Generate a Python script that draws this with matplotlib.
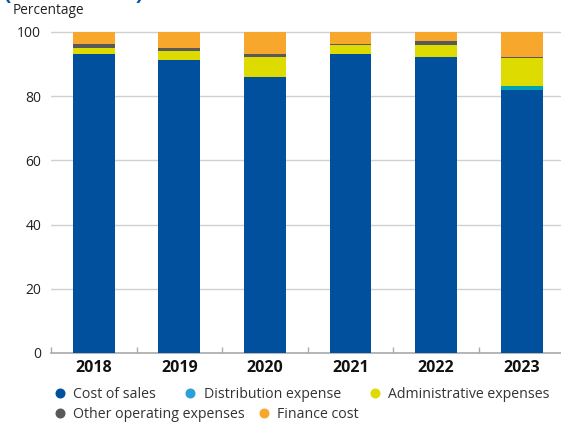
import numpy as np
import matplotlib.pyplot as plt
from matplotlib.lines import Line2D

# ------------------------------------------------------------------
# DATA (percentage of total expenses)
# ------------------------------------------------------------------
years = ["2018", "2019", "2020", "2021", "2022", "2023"]
cost_of_sales = [93.1, 91.2, 86.0, 93.1, 92.2, 81.9]
distribution = [0.0, 0.0, 0.0, 0.0, 0.0, 1.2]
administrative = [1.9, 2.9, 6.2, 2.8, 3.7, 8.8]
other_operating = [1.2, 0.9, 0.9, 0.2, 1.3, 0.3]
finance_cost = [3.8, 5.0, 6.9, 3.9, 2.8, 7.8]

series = [
    ("Cost of sales", cost_of_sales, "#00509d", "#00509d"),
    ("Distribution expense", distribution, "#00a3b4", "#2c9fd9"),
    ("Administrative expenses", administrative, "#dedb00", "#dedb00"),
    ("Other operating expenses", other_operating, "#58595b", "#58595b"),
    ("Finance cost", finance_cost, "#f6a72c", "#f6a72c"),
]

plt.rcParams['font.family'] = ['Open Sans', 'DejaVu Sans']

fig = plt.figure(figsize=(5.61, 4.29), dpi=100)
ax = fig.add_axes([51 / 561, 76 / 429, 1 - 51 / 561, 322 / 429])

x = np.arange(len(years))
bottom = np.zeros(len(years))
for name, vals, col, _ in series:
    ax.bar(x, vals, width=0.49, bottom=bottom, color=col, zorder=3)
    bottom += np.array(vals)

ax.set_xlim(-0.5, 5.46)
ax.set_ylim(0, 100.3)
ax.set_yticks([0, 20, 40, 60, 80, 100])
ax.yaxis.grid(True, color="#d0d0d0", linewidth=1.0, zorder=0)
ax.tick_params(axis="y", length=0, pad=7, labelsize=10, labelcolor="#222222")

ax.set_xticks(x)
ax.set_xticklabels(years, fontsize=11.5, fontweight="bold", color="#111111")
ax.set_xticks(np.arange(len(years)) - 0.5, minor=True)
ax.tick_params(axis="x", which="major", length=0, pad=5)
ax.tick_params(axis="x", which="minor", direction="in", length=4, color="#aaaaaa", width=1)

for s in ["left", "right", "top"]:
    ax.spines[s].set_visible(False)
ax.spines["bottom"].set_color("#aaaaaa")
ax.spines["bottom"].set_linewidth(1.2)

fig.text(13 / 561, 1 - 11 / 429, "Percentage", fontsize=9.8, color="#222222", va="center")
# title cut off at the top of the image
fig.text(4 / 561, 1.0 + 1 / 429, "(2018 \u2013 2023)", fontsize=16, fontweight="bold",
         color="#0a56a8", va="baseline")

# legend laid out in two rows
def handle(name, col):
    return Line2D([], [], marker="o", linestyle="none", markersize=6.2,
                  markerfacecolor=col, markeredgecolor=col, label=name)

row1 = [handle(n, lc) for n, _, _, lc in series[:3]]
row2 = [handle(n, lc) for n, _, _, lc in series[3:]]

leg1 = fig.legend(handles=row1, loc="center left", bbox_to_anchor=(55 / 561, 1 - 394 / 429),
                  ncol=3, frameon=False, fontsize=10.2, handlelength=0.7,
                  handletextpad=0.6, columnspacing=2.05, borderpad=0, borderaxespad=0)
leg2 = fig.legend(handles=row2, loc="center left", bbox_to_anchor=(55 / 561, 1 - 414 / 429),
                  ncol=2, frameon=False, fontsize=10.2, handlelength=0.7,
                  handletextpad=0.6, columnspacing=0.95, borderpad=0, borderaxespad=0)
for leg in (leg1, leg2):
    for t in leg.get_texts():
        t.set_color("#333333")

fig.savefig("out.png", dpi=100)
